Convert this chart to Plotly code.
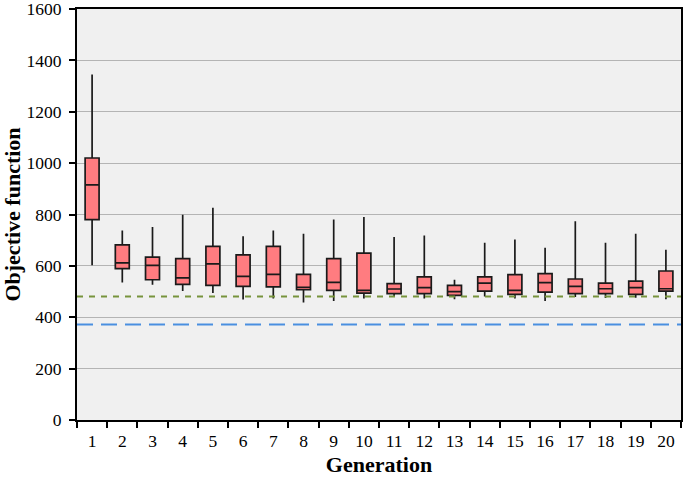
import plotly.graph_objects as go

# Box statistics per generation
generations = [str(i) for i in range(1, 21)]
upper = [1345, 738, 751, 799, 826, 715, 738, 725, 781, 790, 712, 718, 546, 690, 703, 671, 774, 690, 725, 663]
q3 = [1020, 682, 634, 628, 676, 643, 676, 567, 628, 650, 531, 557, 524, 557, 566, 570, 549, 533, 541, 580]
median = [915, 612, 602, 553, 608, 559, 567, 516, 536, 505, 510, 515, 500, 533, 505, 535, 520, 511, 515, 511]
q1 = [780, 589, 546, 528, 524, 520, 518, 507, 505, 494, 492, 492, 485, 502, 489, 498, 492, 492, 489, 502]
lower = [602, 535, 527, 502, 494, 469, 473, 457, 463, 473, 483, 473, 470, 481, 473, 463, 479, 475, 476, 470]

# Reference levels (dashed lines)
green_level = 481
blue_level = 372

font = "Liberation Serif, Times New Roman, serif"

fig = go.Figure()

fig.add_trace(go.Box(
    x=generations,
    q1=q1, median=median, q3=q3,
    lowerfence=lower, upperfence=upper,
    fillcolor="#ff7c80",
    line=dict(color="#1a1a1a", width=1.7),
    whiskerwidth=0,
    boxpoints=False,
    showlegend=False,
    hoverinfo="skip",
))

fig.add_hline(y=green_level, line=dict(color="#77933c", width=2, dash="6px,6px"))
fig.add_hline(y=blue_level, line=dict(color="#4a8fe0", width=2, dash="16px,8px"))

fig.update_layout(
    width=686, height=477,
    margin=dict(l=77, r=5, t=9, b=57, autoexpand=False),
    paper_bgcolor="white",
    plot_bgcolor="#f0f0f0",
    boxgap=0.34,
    font=dict(family=font, size=17.5, color="black"),
)

fig.update_xaxes(
    type="category",
    range=[-0.5, 19.5],
    tickson="boundaries",
    ticks="outside", ticklen=6, tickwidth=2, tickcolor="black",
    tickfont=dict(family=font, size=17.5, color="black"),
    ticklabelstandoff=4,
    showline=True, linecolor="black", linewidth=2, mirror=True,
    showgrid=False,
    automargin=False,
    title=dict(text="<b>Generation</b>", font=dict(family=font, size=22), standoff=10),
)

fig.update_yaxes(
    range=[0, 1600], dtick=200,
    ticks="outside", ticklen=6, tickwidth=2, tickcolor="black",
    tickfont=dict(family=font, size=17.5, color="black"),
    ticklabelstandoff=4,
    ticklabeloverflow="allow",
    showline=True, linecolor="black", linewidth=2, mirror=True,
    showgrid=True, gridcolor="#b4b4b4", gridwidth=1,
    zeroline=False,
    automargin=False,
    title=dict(text="<b>Objective function</b>", font=dict(family=font, size=22), standoff=12),
)

fig.write_html("out.html", config={"displayModeBar": False},
               post_script="document.body.style.margin='0';")
